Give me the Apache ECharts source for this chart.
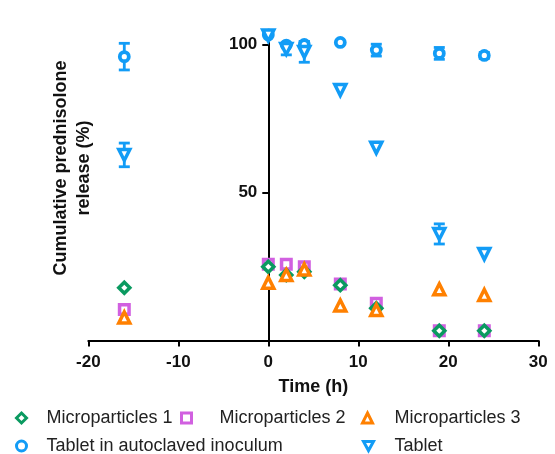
<!DOCTYPE html>
<html><head><meta charset="utf-8">
<script src="https://cdn.jsdelivr.net/npm/echarts@6/dist/echarts.min.js"></script>
<style>html,body{margin:0;padding:0;background:#fff}#c{width:555px;height:454px}</style>
</head><body><div id="c"></div>
<script>
// Data
const times = [-16, 0, 2, 4, 8, 12, 19, 24];
const micro1 = [17.8, 24.9, 22.1, 23.2, 18.7, 10.9, 3.3, 3.3];
const micro2 = [10.5, 25.8, 25.8, 24.9, 19.1, 12.6, 3.3, 3.3];
const micro3 = [7.8, 19.5, 22.1, 24.0, 11.8, 10.3, 17.3, 15.4];
const tabletAuto = [95.9, 103.2, 99.8, 100.0, 100.7, 98.1, 97.0, 96.3];
const tabletAutoErr = [4.5, 0, 0, 1, 0, 2, 2, 1];
const tablet = [62.7, 103.0, 98.5, 97.5, 84.6, 65.1, 36.0, 29.2];
const tabletErr = [4, 0, 2, 3.5, 0, 0, 3.4, 0];
const xTickValues = [-20, -10, 0, 10, 20, 30];
const yTickValues = [50, 100];
const seriesNames = ['Microparticles 1', 'Microparticles 2', 'Microparticles 3', 'Tablet in autoclaved inoculum', 'Tablet'];

const FONT = '"Liberation Sans", Arial, Helvetica, sans-serif';
const GREEN = '#0a9a60', MAG = '#d160e0', ORANGE = '#ff8000', BLUE = '#129cf6';
const DOWN_TRI = 'path://M0,0 L12,0 L6,11 Z';

const pairs = ys => times.map((t, i) => [t, ys[i]]);
const errData = (ys, es) => times.map((t, i) => [t, ys[i] - es[i], ys[i] + es[i]]).filter((d, i) => es[i] > 0);

function errRender(color) {
  return function (params, api) {
    const x = api.value(0), lo = api.value(1), hi = api.value(2);
    const a = api.coord([x, lo]), b = api.coord([x, hi]);
    const w = 5.5, st = { stroke: color, lineWidth: 2.8 };
    return { type: 'group', children: [
      { type: 'line', shape: { x1: a[0], y1: a[1], x2: b[0], y2: b[1] }, style: st },
      { type: 'line', shape: { x1: a[0] - w, y1: a[1], x2: a[0] + w, y2: a[1] }, style: st },
      { type: 'line', shape: { x1: b[0] - w, y1: b[1], x2: b[0] + w, y2: b[1] }, style: st }
    ]};
  };
}

function scatter(name, data, symbol, color, size, bw) {
  return {
    name, type: 'scatter', data: pairs(data), symbol, symbolSize: size,
    itemStyle: { color: '#fff', borderColor: color, borderWidth: bw, opacity: 1 },
    emphasis: { disabled: true }, z: 3
  };
}

function legend(name, iconCenter, top, textStart, color, icon) {
  const w = 10;
  const left = iconCenter - w / 2;
  return {
    data: [icon ? { name, icon } : name], left, top, itemWidth: w, itemHeight: 10, padding: 0, symbolKeepAspect: true,
    itemStyle: { color: '#fff', borderColor: color, borderWidth: 3 },
    textStyle: { fontFamily: FONT, fontSize: 18, color: '#222', padding: [2, 0, 0, textStart - (left + w + 5)] },
    selectedMode: false
  };
}

const chart = echarts.init(document.getElementById('c'));
chart.setOption({
  animation: false,
  grid: { left: 88.3, right: 16.7, top: 29.7, bottom: 113.5 },
  xAxis: {
    type: 'value', min: -20, max: 30, interval: 10,
    name: 'Time (h)', nameLocation: 'middle', nameGap: 38,
    nameTextStyle: { fontFamily: FONT, fontSize: 18, fontWeight: 'bold', color: '#111' },
    axisLine: { lineStyle: { color: '#000', width: 2 } },
    axisTick: { length: 6, lineStyle: { color: '#000', width: 2 } },
    axisLabel: { fontFamily: FONT, fontSize: 17, fontWeight: 'bold', color: '#111', margin: 13,
      formatter: v => xTickValues.includes(v) ? String(v) : '' },
    splitLine: { show: false }
  },
  yAxis: {
    type: 'value', min: 0, max: 105, position: 'left', offset: -180,
    axisLine: { onZero: false, lineStyle: { color: '#000', width: 2 } },
    axisTick: { length: 6, lineStyle: { color: '#000', width: 2 }, customValues: yTickValues },
    axisLabel: { fontFamily: FONT, fontSize: 17, fontWeight: 'bold', color: '#111', margin: 11, customValues: yTickValues },
    splitLine: { show: false }
  },
  graphic: [{
    type: 'text', x: 73, y: 168, rotation: Math.PI / 2,
    style: { text: 'Cumulative prednisolone\nrelease (%)', align: 'center', verticalAlign: 'middle',
      font: 'bold 18px ' + FONT, lineHeight: 23, fill: '#111' }
  }],
  legend: [
    legend(seriesNames[0], 20, 409, 45, GREEN),
    legend(seriesNames[1], 185, 409, 218, MAG),
    legend(seriesNames[2], 366, 409, 393, ORANGE),
    legend(seriesNames[3], 20, 437, 45, BLUE),
    legend(seriesNames[4], 367, 437, 393, BLUE, DOWN_TRI)
  ],
  series: [
    scatter(seriesNames[1], micro2, 'rect', MAG, 9.5, 3.5),
    scatter(seriesNames[0], micro1, 'diamond', GREEN, 11, 3.5),
    scatter(seriesNames[2], micro3, 'triangle', ORANGE, 11, 3.5),
    { type: 'custom', renderItem: errRender(BLUE), data: errData(tabletAuto, tabletAutoErr), z: 2, silent: true },
    { type: 'custom', renderItem: errRender(BLUE), data: errData(tablet, tabletErr), z: 2, silent: true },
    scatter(seriesNames[3], tabletAuto, 'circle', BLUE, 9, 3.8),
    scatter(seriesNames[4], tablet, DOWN_TRI, BLUE, 11, 3.5)
  ]
});
</script></body></html>
